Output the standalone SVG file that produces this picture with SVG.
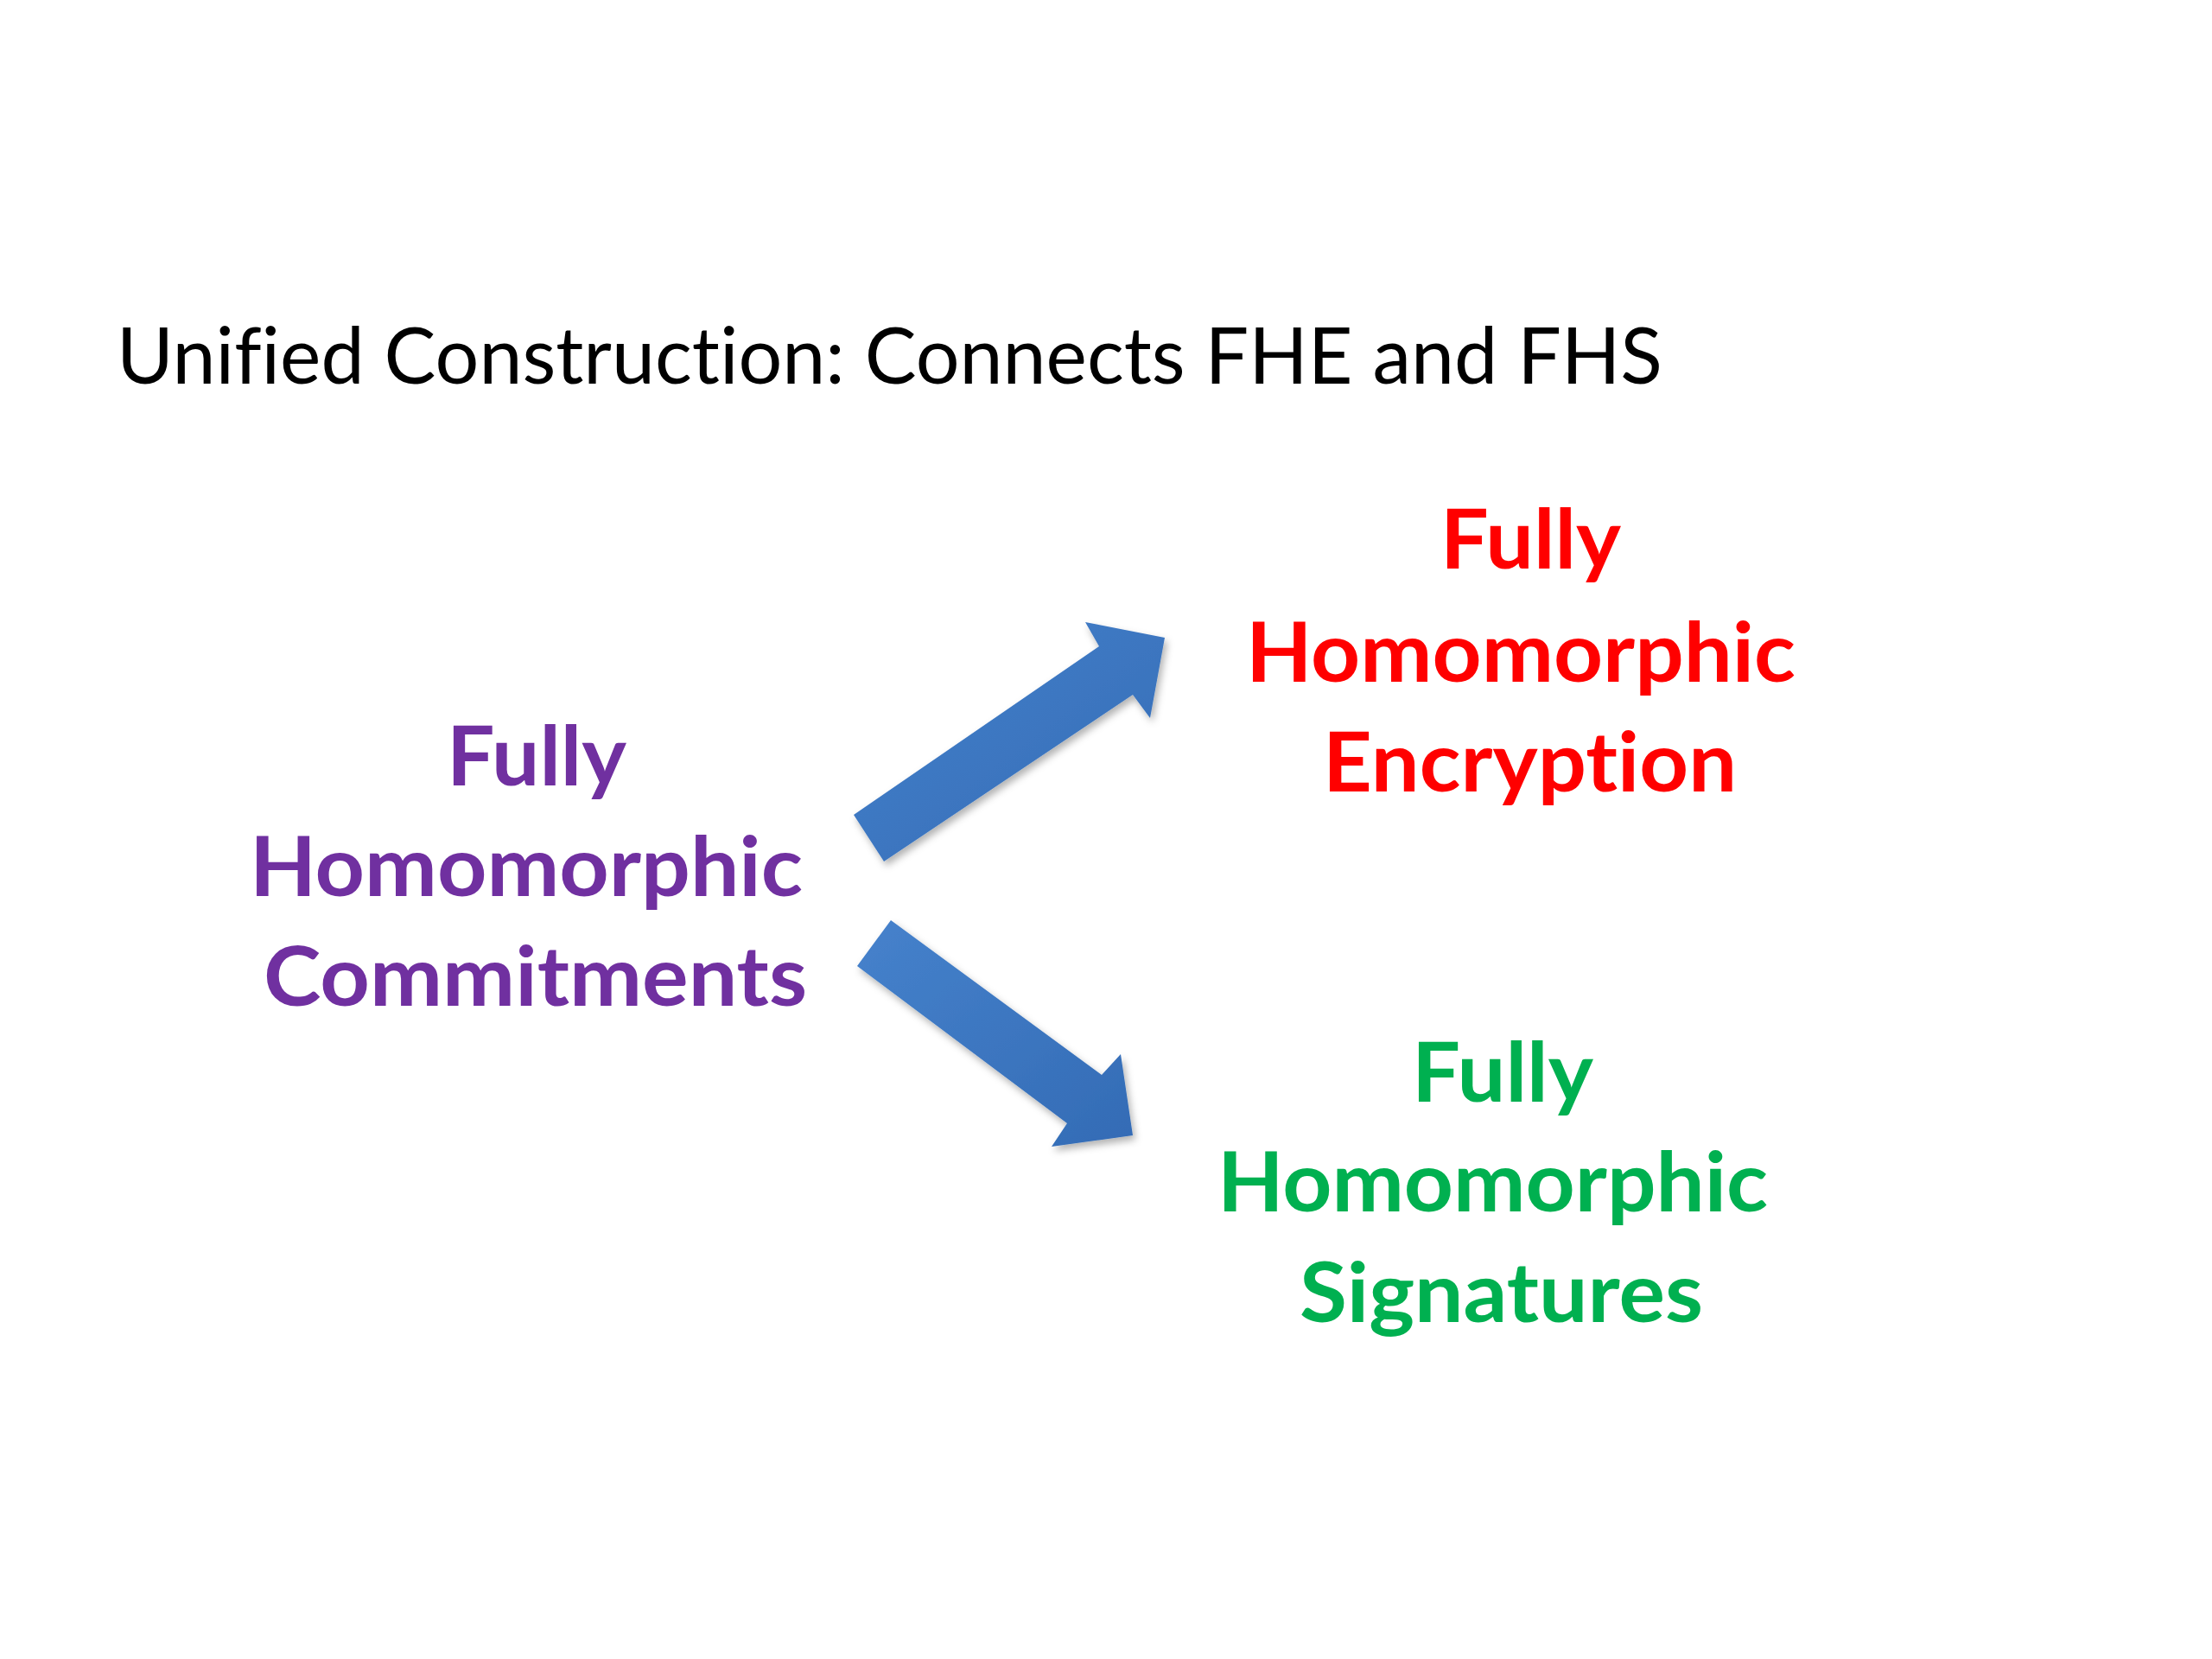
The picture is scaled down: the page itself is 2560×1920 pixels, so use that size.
<svg xmlns="http://www.w3.org/2000/svg" width="2560" height="1920" viewBox="0 0 2560 1920">
<defs>
<style>
text{font-variant-ligatures:none;font-feature-settings:"liga" 0,"clig" 0,"dlig" 0}
.title{font-family:Lato,"Open Sans","Liberation Sans",sans-serif;font-size:92px;fill:#000}
.lbl{font-family:Lato,"Open Sans","Liberation Sans",sans-serif;font-size:96px;font-weight:bold}
.purple{fill:#7030A0}
.red{fill:#FF0000}
.green{fill:#00B050}
.arrow{fill:url(#blue);filter:url(#shadow)}
</style>
<linearGradient id="blue" x1="0" y1="0" x2="1" y2="1">
<stop offset="0" stop-color="#4682CC"/>
<stop offset="1" stop-color="#336BB5"/>
</linearGradient>
<filter id="shadow" x="-20%" y="-20%" width="140%" height="140%">
<feDropShadow dx="3" dy="5" stdDeviation="4" flood-color="#000" flood-opacity="0.3"/>
</filter>
</defs>
<rect width="2560" height="1920" fill="#fff"/>
<g id="title">
<text class="title" x="135" y="444" textLength="1789" lengthAdjust="spacingAndGlyphs">Unified Construction: Connects FHE and FHS</text>
</g>
<g id="node-fhc">
<text class="lbl purple" x="517" y="909" textLength="208" lengthAdjust="spacingAndGlyphs">Fully</text>
<text class="lbl purple" x="289" y="1037" textLength="640" lengthAdjust="spacingAndGlyphs">Homomorphic</text>
<text class="lbl purple" x="305" y="1164" textLength="629" lengthAdjust="spacingAndGlyphs">Commitments</text>
</g>
<g id="node-fhe">
<text class="lbl red" x="1667" y="658" textLength="209" lengthAdjust="spacingAndGlyphs">Fully</text>
<text class="lbl red" x="1442" y="789" textLength="636" lengthAdjust="spacingAndGlyphs">Homomorphic</text>
<text class="lbl red" x="1531" y="916" textLength="479" lengthAdjust="spacingAndGlyphs">Encryption</text>
</g>
<g id="node-fhs">
<text class="lbl green" x="1634" y="1275" textLength="210" lengthAdjust="spacingAndGlyphs">Fully</text>
<text class="lbl green" x="1409" y="1402" textLength="637" lengthAdjust="spacingAndGlyphs">Homomorphic</text>
<text class="lbl green" x="1504" y="1530" textLength="467" lengthAdjust="spacingAndGlyphs">Signatures</text>
</g>
<g id="connectors">
<polygon class="arrow" points="988,943 1023,997 1311,804 1331,831 1348,738 1256,720 1272,748"/>
<polygon class="arrow" points="992,1118 1031,1065 1275,1244 1297,1220 1311,1314 1217,1327 1235,1300"/>
</g>
</svg>
